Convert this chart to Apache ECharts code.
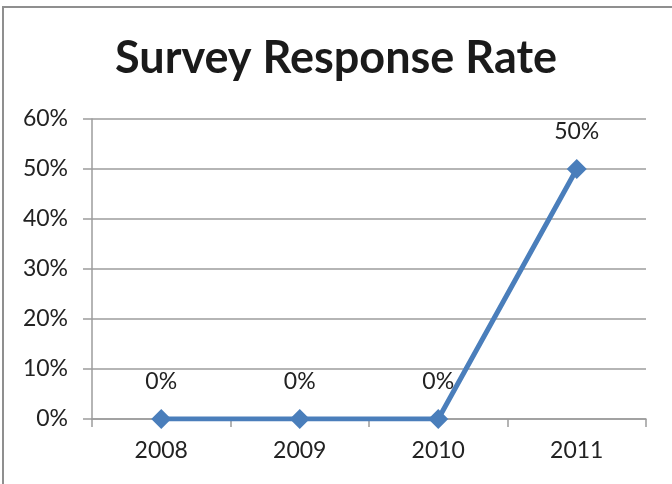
<!DOCTYPE html>
<html>
<head>
<meta charset="utf-8">
<script src="https://cdn.jsdelivr.net/npm/echarts@6/dist/echarts.min.js"></script>
<style>
  html, body { margin: 0; padding: 0; background: #ffffff; }
  #chart { width: 672px; height: 484px; }
</style>
</head>
<body>
<div id="chart"></div>
<script>
// Survey response rate by year
const titleText = 'Survey Response Rate';
const years = ['2008', '2009', '2010', '2011'];
const responseRate = [0, 0, 0, 0.5];
const yTicks = { min: 0, max: 0.6, interval: 0.1 };

const textColor = '#222222';
const gridColor = '#9c9c9c';
const lineColor = '#4a7ebb';
const fontFamily = 'Lato, "Open Sans", sans-serif';

const pct = v => Math.round(v * 100) + '%';

const chart = echarts.init(document.getElementById('chart'), null, { renderer: 'canvas' });

chart.setOption({
  backgroundColor: '#ffffff',
  animation: false,
  graphic: [{
    type: 'rect',
    shape: { x: 3, y: 7, width: 720, height: 520 },
    style: { fill: 'none', stroke: '#8f8f8f', lineWidth: 2 },
    silent: true,
    z: 100
  }],
  title: {
    text: titleText,
    left: 'center',
    top: 31,
    textStyle: {
      fontFamily: fontFamily,
      fontWeight: 'bold',
      fontSize: 45,
      color: '#1a1a1a'
    }
  },
  grid: { left: 92, right: 26, top: 119, bottom: 65 },
  xAxis: {
    type: 'category',
    data: years,
    boundaryGap: true,
    axisLine: { show: true, lineStyle: { color: gridColor, width: 1.5 } },
    axisTick: { show: true, length: 8, lineStyle: { color: gridColor, width: 1.5 } },
    axisLabel: {
      margin: 20,
      fontFamily: fontFamily,
      fontSize: 23,
      color: textColor
    },
    splitLine: { show: false }
  },
  yAxis: {
    type: 'value',
    min: yTicks.min,
    max: yTicks.max,
    interval: yTicks.interval,
    axisLine: { show: true, lineStyle: { color: gridColor, width: 1.5 } },
    axisTick: { show: true, length: 9, lineStyle: { color: gridColor, width: 1.5 } },
    axisLabel: {
      margin: 24,
      fontFamily: fontFamily,
      fontSize: 23,
      color: textColor,
      formatter: pct
    },
    splitLine: { show: true, lineStyle: { color: gridColor, width: 1.5 } }
  },
  series: [{
    type: 'line',
    data: responseRate,
    symbol: 'diamond',
    symbolSize: 20,
    showAllSymbol: true,
    lineStyle: { color: lineColor, width: 5 },
    itemStyle: { color: lineColor },
    label: {
      show: true,
      position: 'top',
      distance: 16,
      fontFamily: fontFamily,
      fontSize: 23,
      color: textColor,
      formatter: p => pct(p.value)
    }
  }]
});
</script>
</body>
</html>
